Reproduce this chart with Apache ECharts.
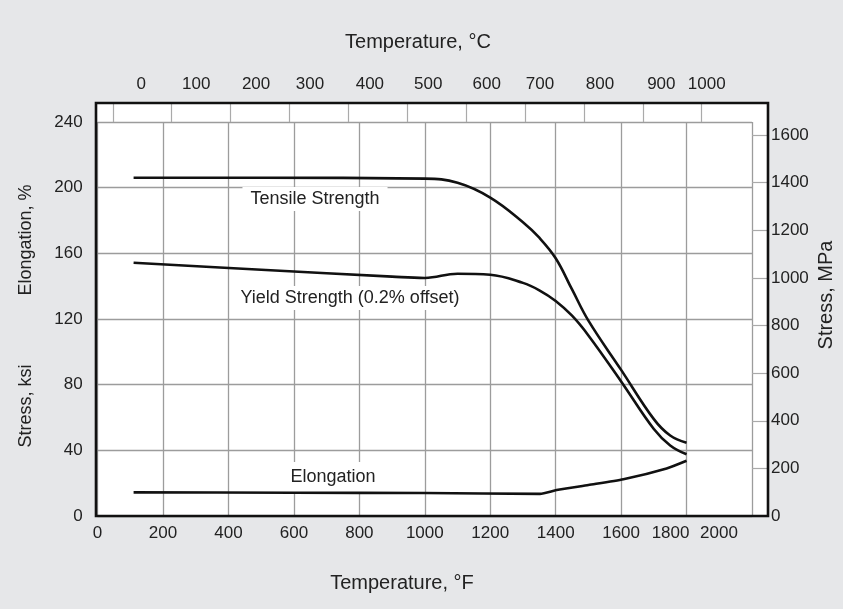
<!DOCTYPE html>
<html><head><meta charset="utf-8">
<script src="https://cdn.jsdelivr.net/npm/echarts@6/dist/echarts.min.js"></script>
<style>html,body{margin:0;padding:0;background:#e6e7e9}#c{width:843px;height:609px}</style>
</head><body><div id="c"></div>
<script>
// Tick labels
const fahrenheitTicks = [0,200,400,600,800,1000,1200,1400,1600,1800,2000];
const celsiusTicks = [0,100,200,300,400,500,600,700,800,900,1000];
const ksiTicks = [0,40,80,120,160,200,240];
const mpaTicks = [0,200,400,600,800,1000,1200,1400,1600];

// Series (temperature °F, value)
const tensileF   = [110, 500, 1000, 1100, 1200, 1300, 1350, 1400, 1450, 1500, 1600, 1700, 1750, 1800];
const tensileKsi = [206, 206, 205.5, 203, 194, 179, 169.5, 157, 138, 119, 89, 59, 49, 44.6];

const yieldF   = [110, 500, 900, 1000, 1100, 1200, 1300, 1350, 1400, 1450, 1500, 1600, 1700, 1750, 1800];
const yieldKsi = [154.3, 150, 145.8, 145, 147.6, 147, 142, 137.5, 131, 122, 110, 82, 53, 43, 37.6];

const elongF   = [110, 600, 1000, 1352, 1403, 1500, 1607, 1739, 1800];
const elongPct = [14.4, 14.2, 14.0, 13.5, 15.8, 18.9, 22.4, 29, 33.7];

const KSI_TO_MPA = 6.895;
const FONT = '"Liberation Sans", Arial, sans-serif';
const zip = (a, b) => a.map((v, i) => [v, b[i]]);

const chart = echarts.init(document.getElementById('c'));
const lineStyle = { color: '#111', width: 2.6 };
const txt = (text, x, y, size, opts) => Object.assign({
  type: 'text', x: x, y: y, z: 5,
  style: Object.assign({ text: text, x: 0, y: 0, fill: '#222', font: size + 'px ' + FONT,
    align: 'center', verticalAlign: 'middle', textAlign: 'center', textVerticalAlign: 'middle' }, opts && opts.style || {})
}, opts && opts.el || {});

// °C labels sit to the right of their ticks in the original
const cRich = {};
const cPad = { 0: 57, 100: 49, 200: 51, 300: 41, 400: 43, 500: 42, 600: 41, 700: 30, 800: 32, 900: 37, 1000: 10 };
Object.keys(cPad).forEach(k => { cRich['c' + k] = { fontSize: 17, fontFamily: FONT, color: '#222', padding: [0, 0, 0, cPad[k]] }; });

chart.setOption({
  backgroundColor: '#e6e7e9',
  animation: false,
  grid: { left: 97.6, right: 91, top: 122, bottom: 93 },
  xAxis: [{
    type: 'value', position: 'bottom', min: 0, max: 2000, interval: 200,
    axisLine: { show: false, onZero: false }, axisTick: { show: false },
    axisLabel: {
      margin: 9, color: '#222', fontSize: 17, fontFamily: FONT,
      formatter: v => v === 1800 ? '{a|1800}' : v === 2000 ? '{b|2000}' : '{n|' + v + '}',
      rich: {
        n: { fontSize: 17, fontFamily: FONT, color: '#222' },
        a: { fontSize: 17, fontFamily: FONT, color: '#222', padding: [0, 32, 0, 0] },
        b: { fontSize: 17, fontFamily: FONT, color: '#222', padding: [0, 66, 0, 0] }
      }
    },
    splitLine: { show: true, lineStyle: { color: '#9c9c9c', width: 1.3 } }
  }, {
    type: 'value', position: 'top',
    min: (0 - 32) / 1.8 - 8, max: (2000 - 32) / 1.8 - 8,
    axisLine: { show: false, onZero: false },
    axisTick: { show: true, inside: false, length: 19, customValues: celsiusTicks, lineStyle: { color: '#aaa', width: 1.2 } },
    axisLabel: {
      customValues: celsiusTicks, margin: 29, color: '#222', fontSize: 17, fontFamily: FONT,
      formatter: v => '{c' + v + '|' + v + '}',
      rich: cRich
    },
    splitLine: { show: false }
  }],
  yAxis: [{
    type: 'value', position: 'left', min: 0, max: 240, interval: 40,
    axisLine: { show: false, onZero: false }, axisTick: { show: false },
    axisLabel: { margin: 15, color: '#222', fontSize: 17, fontFamily: FONT },
    splitLine: { show: true, lineStyle: { color: '#9c9c9c', width: 1.3 } }
  }, {
    type: 'value', position: 'right', min: 0, max: 240 * KSI_TO_MPA,
    axisLine: { show: false, onZero: false },
    axisTick: { show: true, inside: false, length: 16, customValues: mpaTicks, lineStyle: { color: '#aaa', width: 1.2 } },
    axisLabel: { customValues: mpaTicks, margin: 19, color: '#222', fontSize: 17, fontFamily: FONT, formatter: v => String(v) },
    splitLine: { show: false }
  }],
  graphic: [
    { type: 'rect', z: -10, silent: true, shape: { x: 96, y: 103, width: 672, height: 413 }, style: { fill: '#fff' } },
    { type: 'rect', z: 100, silent: true, shape: { x: 96, y: 103, width: 672, height: 413 }, style: { fill: null, stroke: '#111', lineWidth: 2.6 } },
    txt('Temperature, °C', 418, 42, 20),
    txt('Temperature, °F', 402, 583, 20),
    txt('Elongation, %', 26, 240, 18, { el: { rotation: Math.PI / 2 } }),
    txt('Stress, ksi', 26, 406, 18, { el: { rotation: Math.PI / 2 } }),
    txt('Stress, MPa', 826, 295, 20, { el: { rotation: Math.PI / 2 } }),
    txt('Tensile Strength', 315, 199, 18, { style: { backgroundColor: '#fff', padding: [3, 8] } }),
    txt('Yield Strength (0.2% offset)', 350, 298, 18, { style: { backgroundColor: '#fff', padding: [3, 8] } }),
    txt('Elongation', 333, 477, 18, { style: { backgroundColor: '#fff', padding: [6, 42] } })
  ],
  series: [
    { type: 'line', name: 'Tensile Strength', xAxisIndex: 0, yAxisIndex: 0, data: zip(tensileF, tensileKsi), showSymbol: false, smooth: 0.4, lineStyle: lineStyle, z: 10 },
    { type: 'line', name: 'Yield Strength', xAxisIndex: 0, yAxisIndex: 0, data: zip(yieldF, yieldKsi), showSymbol: false, smooth: 0.4, lineStyle: lineStyle, z: 10 },
    { type: 'line', name: 'Elongation', xAxisIndex: 0, yAxisIndex: 0, data: zip(elongF, elongPct), showSymbol: false, smooth: 0.2, lineStyle: lineStyle, z: 10 }
  ]
});
</script></body></html>
